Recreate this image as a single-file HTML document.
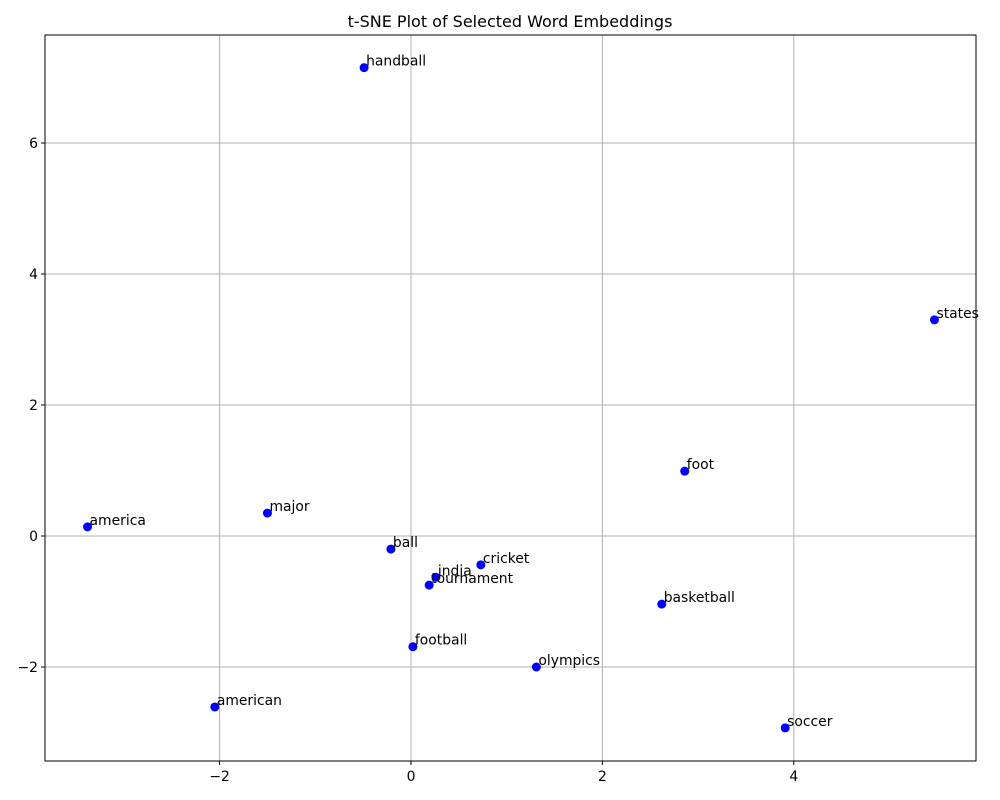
<!DOCTYPE html>
<html><head><meta charset="utf-8"><style>
body{margin:0;background:#fff;}
svg{display:block;font-family:"DejaVu Sans","Liberation Sans",sans-serif;}
</style></head><body>
<svg id="chart" width="1000" height="800">
<text x="510" y="27" text-anchor="middle" font-size="16">t-SNE Plot of Selected Word Embeddings</text>
<g id="grid"></g>
<g id="ticks"></g>
<g id="points"></g>
<rect x="45" y="35" width="931" height="726" fill="none" stroke="#000" stroke-width="1"/>
</svg>
<script>
const words = ["handball","states","foot","major","america","ball","cricket","india","tournament","basketball","football","olympics","american","soccer"];
const xVals = [-0.49,5.47,2.86,-1.50,-3.38,-0.21,0.73,0.26,0.19,2.62,0.02,1.31,-2.05,3.91];
const yVals = [7.15,3.30,0.99,0.35,0.14,-0.20,-0.44,-0.63,-0.75,-1.04,-1.69,-2.00,-2.61,-2.93];
const xTicks = [-2,0,2,4];
const yTicks = [-2,0,2,4,6];
const L=45,R=976,T=35,B=761;
function sx(v){return 411+v*95.7;}
function sy(v){return 536-v*65.5;}
const NS="http://www.w3.org/2000/svg";
function mk(tag,attrs,parent){const e=document.createElementNS(NS,tag);for(const k in attrs)e.setAttribute(k,attrs[k]);parent.appendChild(e);return e;}
const grid=document.getElementById('grid'),ticks=document.getElementById('ticks'),pts=document.getElementById('points');
xTicks.forEach(t=>{const x=sx(t);
 const g=mk('line',{x1:x,x2:x,y1:T,y2:B,stroke:'#b0b0b0','stroke-width':1},grid);
 
 
 mk('line',{x1:x,x2:x,y1:B,y2:B+4,stroke:'#000'},ticks);
 const tx=mk('text',{x:x,y:B+20,'text-anchor':'middle','font-size':13.9},ticks);
 tx.textContent=(t<0?'\u2212'+(-t):t);
 
 
});
yTicks.forEach(t=>{const y=sy(t);
 const g=mk('line',{x1:L,x2:R,y1:y,y2:y,stroke:'#b0b0b0','stroke-width':1},grid);
 
 
 mk('line',{x1:L-4,x2:L,y1:y,y2:y,stroke:'#000'},ticks);
 const tx=mk('text',{x:L-7,y:y+5,'text-anchor':'end','font-size':13.9},ticks);
 tx.textContent=(t<0?'\u2212'+(-t):t);
 
 
});
words.forEach((w,i)=>{const x=sx(xVals[i]),y=sy(yVals[i]);
 const c=mk('circle',{cx:x,cy:y,r:4.5,fill:'#0000ff'},pts);
 
 
 const tx=mk('text',{x:x+2,y:y-2,'font-size':13.9},pts);
 tx.textContent=w;
 
 
});
</script>
</body></html>
